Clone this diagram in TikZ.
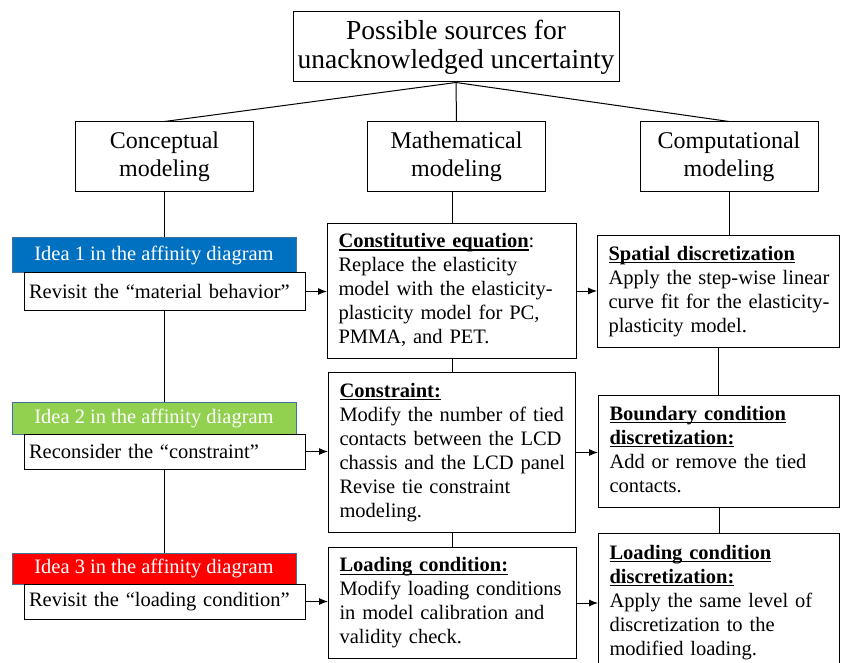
\documentclass[tikz,border=0pt]{standalone}
\usepackage{fontspec}
\setmainfont{Liberation Serif}
\usetikzlibrary{arrows.meta}

\newcommand{\ulhead}[1]{\leavevmode\setbox0\hbox{\textbf{#1}}\rlap{\rule[-3pt]{\wd0}{1.3pt}}\box0}
\newcommand{\boxlines}[1]{\begin{tabular}{@{}l@{}}#1\end{tabular}}

\definecolor{ideablue}{HTML}{0070C0}
\definecolor{ideagreen}{HTML}{92D050}
\definecolor{ideared}{HTML}{FF0000}
\definecolor{barline}{HTML}{41719C}

\tikzset{
	body font/.style={font=\fontsize{20.5}{24}\selectfont},
	head box/.style={draw, line width=1pt, align=center, minimum width=178pt, minimum height=70pt, font=\fontsize{24}{28}\selectfont},
	idea bar/.style={fill=#1, draw=barline, line width=1pt, text=white, minimum width=284pt, inner sep=0pt, body font},
	revisit box/.style={draw, line width=1pt, fill=white, minimum height=36pt, inner xsep=5pt, text width=271pt, align=left, body font},
	detail box/.style={draw, line width=1pt, fill=white, inner xsep=11pt, text width=#1, align=left, anchor=north west, body font},
	link/.style={line width=1pt},
	arrow/.style={link, -{Latex[length=9pt,width=7pt]}}
}

\begin{document}
\begin{tikzpicture}[x=1pt, y=-1pt]
	\useasboundingbox (0,0) rectangle (841,663);
	% top and the three modeling stages
	\node[head box, minimum width=326pt, font=\fontsize{27.5}{29}\selectfont] (src) at (456,47) {Possible sources for\\unacknowledged uncertainty};
	\node[head box] (concept) at (164.5,157) {Conceptual\\modeling};
	\node[head box] (math) at (456.5,157) {Mathematical\\modeling};
	\node[head box] (comp) at (729,157) {Computational\\modeling};

	% ideas from the affinity diagram
	\node[idea bar=ideablue, minimum height=35pt] (idea1) at (154,255.5) {Idea 1 in the affinity diagram};
	\node[revisit box, minimum height=37pt] (rev1) at (164.5,291.5) {Revisit the “material behavior”};
	\node[idea bar=ideagreen, minimum height=32pt] (idea2) at (154,418) {Idea 2 in the affinity diagram};
	\node[revisit box, minimum height=35pt] (rev2) at (164.5,451.5) {Reconsider the “constraint”};
	\node[idea bar=ideared, minimum height=31pt] (idea3) at (154,568.5) {Idea 3 in the affinity diagram};
	\node[revisit box, minimum height=35pt] (rev3) at (164.5,601.5) {Revisit the “loading condition”};

	% mathematical modeling
	\node[detail box=227pt, minimum height=135pt] (coneq) at (327,223) {\boxlines{\ulhead{Constitutive equation}:\\Replace the elasticity\\model with the elasticity-\\plasticity model for PC,\\PMMA, and PET.}};
	\node[detail box=225pt, minimum height=160pt] (constr) at (328,372) {\boxlines{\ulhead{Constraint:}\\Modify the number of tied\\contacts between the LCD\\chassis and the LCD panel\\Revise tie constraint\\modeling.}};
	\node[detail box=226pt, minimum height=111pt] (loadc) at (328,547) {\boxlines{\ulhead{Loading condition:}\\Modify loading conditions\\in model calibration and\\validity check.}};

	% computational modeling
	\node[detail box=220pt, minimum height=112pt] (spat) at (597,235) {\boxlines{\ulhead{Spatial discretization}\\Apply the step-wise linear\\curve fit for the elasticity-\\plasticity model.}};
	\node[detail box=219pt, minimum height=112pt] (bound) at (598,395) {\boxlines{\ulhead{Boundary condition}\\\ulhead{discretization:}\\Add or remove the tied\\contacts.}};
	\node[detail box=219pt, minimum height=138pt] (ldisc) at (598,533) {\boxlines{\ulhead{Loading condition}\\\ulhead{discretization:}\\Apply the same level of\\discretization to the\\modified loading.}};

	\draw[link] (src.south) -- (concept.north);
	\draw[link] (src.south) -- (math.north);
	\draw[link] (src.south) -- (comp.north);

	\draw[link] (concept.south) -- (concept.south |- idea1.north);
	\draw[link] (rev1.south) -- (rev1.south |- idea2.north);
	\draw[link] (rev2.south) -- (rev2.south |- idea3.north);

	\draw[link] (coneq.north |- math.south) -- (coneq.north);
	\draw[link] (coneq.south) -- (coneq.south |- constr.north);
	\draw[link] (constr.south) -- (constr.south |- loadc.north);

	\draw[link] (comp.south) -- (comp.south |- spat.north);
	\draw[link] (spat.south) -- (spat.south |- bound.north);
	\draw[link] (bound.south) -- (bound.south |- ldisc.north);

	\draw[arrow] (rev1.east) -- (rev1.east -| coneq.west);
	\draw[arrow] (rev2.east) -- (rev2.east -| constr.west);
	\draw[arrow] (rev3.east) -- (rev3.east -| loadc.west);
	\draw[arrow] (coneq.east) -- (coneq.east -| spat.west);
	\draw[arrow] (constr.east) -- (constr.east -| bound.west);
	\draw[arrow] (loadc.east) -- (loadc.east -| ldisc.west);
\end{tikzpicture}
\end{document}
